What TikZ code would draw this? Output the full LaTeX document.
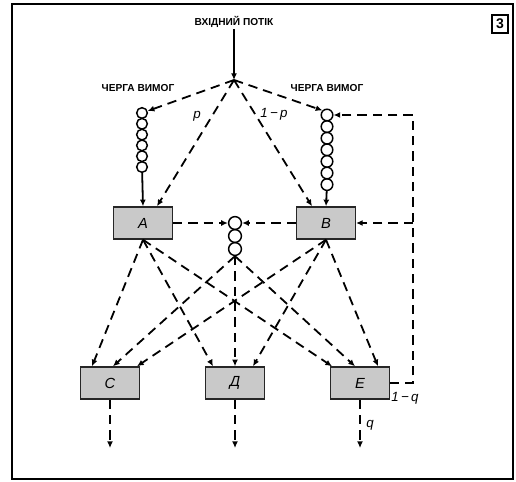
\documentclass[tikz,border=0pt]{standalone}
\usepackage{fontspec}
\setmainfont{Liberation Sans}
\usetikzlibrary{arrows.meta,calc}
\begin{document}
\begin{tikzpicture}[x=0.75pt,y=-0.75pt,
  dl/.style={line width=1.35pt,dash pattern=on 7pt off 4.5pt,-{Latex[length=5pt,width=4.5pt]}},
  sl/.style={line width=1.35pt,-{Latex[length=5pt,width=4.5pt]}},
  srv/.style={draw=black!85,line width=1.1pt,fill=black!21,minimum width=44pt,minimum height=24pt,inner sep=0pt,font=\itshape\fontsize{11}{11}\selectfont},
  qc/.style={circle,draw,line width=1.1pt,inner sep=0pt,minimum size=#1},
  captxt/.style={font=\bfseries\fontsize{7.6}{7.6}\selectfont,inner sep=1pt},
  lab/.style={font=\itshape\fontsize{10}{10}\selectfont,inner sep=1pt}]
\useasboundingbox (0,0) rectangle (516,481);
\draw[line width=1.5pt] (12,4) rectangle (513,479);
\node[draw,line width=1.1pt,minimum width=12pt,minimum height=13.5pt,inner sep=0pt,font=\bfseries\fontsize{10.5}{10.5}\selectfont] (fig) at (500,24) {3};

\node[captxt] (in) at (234,22) {ВХІДНИЙ ПОТІК};
\coordinate (apex) at (234,80);
\node[captxt] (tl) at (138,88) {ЧЕРГА ВИМОГ};
\node[captxt] (tr) at (327,88) {ЧЕРГА ВИМОГ};

% left queue
\foreach \i in {1,...,6} {\node[qc=8pt] (L\i) at (142,{113+(\i-1)*10.8}) {};}
% right queue
\foreach \i in {1,...,7} {\node[qc=8.7pt] (R\i) at (327,{115+(\i-1)*11.6}) {};}
% middle queue
\foreach \i in {1,...,3} {\node[qc=9.6pt] (M\i) at (235,{223+(\i-1)*13}) {};}

\node[srv] (A) at (143,223) {A};
\node[srv] (B) at (326,223) {B};
\node[srv] (C) at (110,383) {C};
\node[srv] (D) at (235,383) {Д};
\node[srv] (E) at (360,383) {E};

\coordinate (oc) at (110,448);
\coordinate (od) at (235,448);
\coordinate (oe) at (360,448);
\coordinate (fb1) at (413,383);
\coordinate (fb2) at (413,115);
\coordinate (fbB) at (413,223);

\draw[sl] (in) -- (apex);
\draw[dl] (apex) -- (L1);
\draw[dl] (apex) -- (R1.north west);
\node[lab] (lp) at (197,116) {p};
\node[lab] (lnp) at (274,114) {1\,−\,p};
\draw[dl] (apex) -- ([xshift=10.5pt]A.north);
\draw[dl] (apex) -- ([xshift=-10.5pt]B.north);
\draw[sl] (L6) -- (A.north);
\draw[sl] (R7) -- (B.north);
\draw[dl] (A) -- (M1);
\draw[dl] (B) -- (M1);

\draw[dl] (E.east) -- (fb1) -- (fb2) -- (R1);
\draw[dl] (fbB) -- (B.east);
\node[lab] (lq) at (405,398) {1\,−\,q};

\draw[dl] (A.south) -- ([xshift=-13.5pt]C.north);
\draw[dl] (A.south) -- ([xshift=-16.5pt]D.north);
\draw[dl] (A.south) -- ([xshift=-21pt]E.north);
\draw[dl] (M3.south) -- ([xshift=2.25pt]C.north);
\draw[dl] (M3.south) -- (D.north);
\draw[dl] (M3.south) -- ([xshift=-3.75pt]E.north);
\draw[dl] (B.south) -- ([xshift=20.25pt]C.north);
\draw[dl] (B.south) -- ([xshift=13.5pt]D.north);
\draw[dl] (B.south) -- ([xshift=13.5pt]E.north);

\draw[dl] (C.south) -- (oc);
\draw[dl] (D.south) -- (od);
\draw[dl] (E.south) -- (oe);
\node[lab] (q) at (370,425) {q};
\end{tikzpicture}
\end{document}
